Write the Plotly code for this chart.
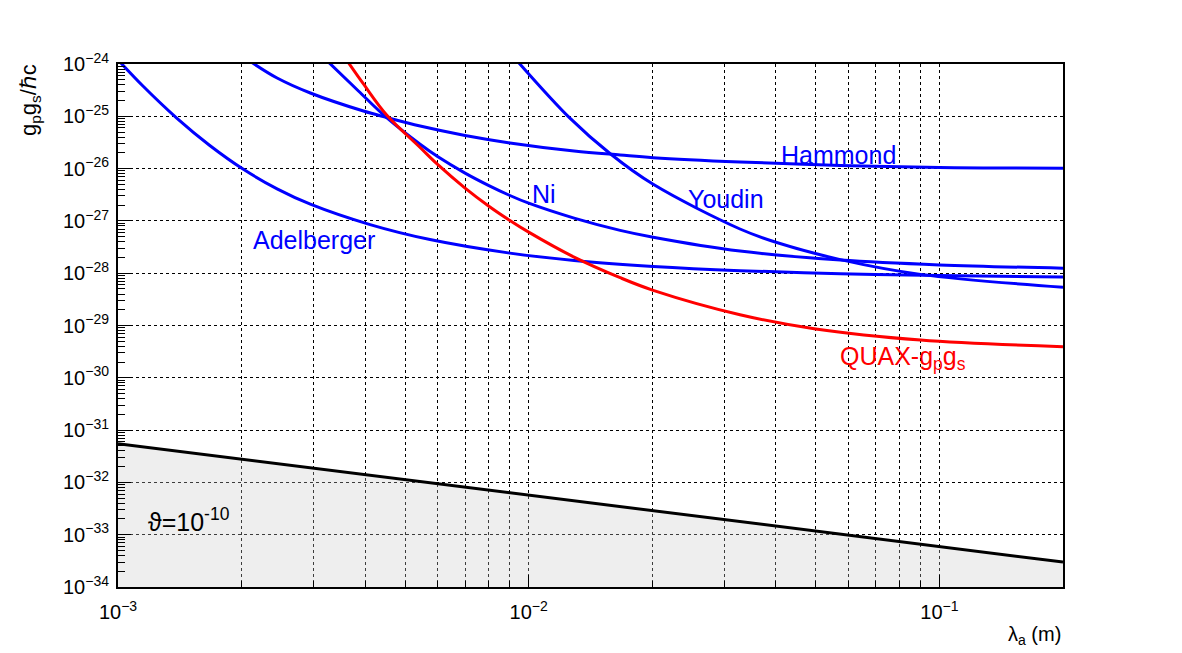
import numpy as np
import plotly.graph_objects as go

# ---------------- data (lambda_a in m, limit on g_p g_s / (hbar c)) ----------------
adel_x = [1.0e-3, 1.15e-3, 1.39e-3, 1.67e-3, 2.02e-3, 2.44e-3, 2.94e-3, 4.11e-3, 5.75e-3,
          9.0e-3, 1.29e-2, 2.01e-2, 3.27e-2, 5.74e-2, 0.1, 0.2]
adel_y = [1.2e-24, 3.79e-25, 9.25e-26, 2.8e-26, 9.7e-27, 4.11e-27, 2.09e-27, 8.5e-28, 4.4e-28,
          2.42e-28, 1.75e-28, 1.35e-28, 1.12e-28, 9.8e-29, 9.0e-29, 8.5e-29]

hamm_x = [2.10e-3, 2.44e-3, 2.94e-3, 3.96e-3, 4.51e-3, 5.44e-3, 7.0e-3, 9.0e-3, 1.29e-2,
          1.67e-2, 2.01e-2, 3.27e-2, 5.74e-2, 0.1, 0.2]
hamm_y = [1.12e-24, 5.4e-25, 2.79e-25, 1.26e-25, 9.5e-26, 6.5e-26, 4.3e-26, 3.1e-26, 2.17e-26,
          1.82e-26, 1.62e-26, 1.34e-26, 1.15e-26, 1.05e-26, 1.02e-26]

ni_x = [3.23e-3, 3.85e-3, 4.51e-3, 5.44e-3, 6.0e-3, 7.0e-3, 8.0e-3, 9.0e-3, 1.0e-2, 1.29e-2,
        1.67e-2, 2.01e-2, 3.27e-2, 5.74e-2, 0.1, 0.2]
ni_y = [1.15e-24, 3.05e-25, 9.4e-26, 2.92e-26, 1.70e-26, 8.2e-27, 4.73e-27, 3.06e-27, 2.18e-27,
        1.13e-27, 6.6e-28, 4.88e-28, 2.65e-28, 1.78e-28, 1.44e-28, 1.25e-28]

youd_x = [9.37e-3, 1.26e-2, 1.58e-2, 2.01e-2, 3.27e-2, 4.0e-2, 5.74e-2, 9.0e-2, 0.2]
youd_y = [1.15e-24, 9.2e-26, 1.92e-26, 5.0e-27, 7.0e-28, 3.9e-28, 1.82e-28, 9.5e-29, 5.4e-29]

quax_x = [3.6e-3, 3.96e-3, 4.51e-3, 5.44e-3, 6.0e-3, 7.0e-3, 8.0e-3, 9.0e-3, 1.0e-2, 1.29e-2,
          1.67e-2, 2.01e-2, 3.27e-2, 5.0e-2, 9.0e-2, 0.2]
quax_y = [1.2e-24, 4.15e-25, 1.06e-25, 2.53e-26, 1.2e-26, 4.24e-27, 1.91e-27, 1.02e-27, 6.1e-28,
          2.03e-28, 8.2e-29, 4.71e-29, 1.61e-29, 8.6e-30, 5.28e-30, 3.92e-30]

theta_x = [1.0e-3, 0.2]
theta_y = [5.5e-32, 3.0e-34]

# axes
X_MIN, X_MAX = 1e-3, 0.2
Y_MIN, Y_MAX = 1e-34, 1e-24
x_major = [1e-3, 1e-2, 1e-1]
x_major_text = ["10<sup>\u22123</sup>", "10<sup>\u22122</sup>", "10<sup>\u22121</sup>"]
x_minor = [m * 10.0 ** e for e in (-3, -2, -1) for m in range(2, 10) if m * 10.0 ** e < X_MAX]
y_exps = list(range(-34, -23))
y_major = [10.0 ** e for e in y_exps]
y_major_text = ["10<sup>\u2212%d</sup>" % (-e) for e in y_exps]
y_minor = [m * 10.0 ** e for e in range(-34, -24) for m in range(2, 10)]

FONT = "Liberation Sans, Arial, Helvetica, sans-serif"
BLUE = "#0000ff"
RED = "#ff0000"

fig = go.Figure()

# shaded region below theta line
fig.add_trace(go.Scatter(
    x=theta_x + [theta_x[-1], theta_x[0]],
    y=theta_y + [Y_MIN, Y_MIN],
    mode="lines", fill="toself", line=dict(width=0),
    fillcolor="rgba(200,200,200,0.3)", hoverinfo="skip", showlegend=False))

for xs, ys, col in [(adel_x, adel_y, BLUE), (hamm_x, hamm_y, BLUE), (ni_x, ni_y, BLUE),
                    (youd_x, youd_y, BLUE), (quax_x, quax_y, RED)]:
    fig.add_trace(go.Scatter(x=xs, y=ys, mode="lines",
                             line=dict(color=col, width=3, shape="spline", smoothing=1.0,
                                       simplify=False),
                             showlegend=False))

fig.add_trace(go.Scatter(x=theta_x, y=theta_y, mode="lines",
                         line=dict(color="black", width=3), showlegend=False))

# text labels (positions in axis units)
labels = [
    ("Hammond", 0.0406, 1.8e-26, BLUE),
    ("Ni", 0.0101, 3.2e-27, BLUE),
    ("Youdin", 0.0242, 2.6e-27, BLUE),
    ("Adelberger", 2.11e-3, 4.3e-28, BLUE),
    ("QUAX-g<sub>p</sub>g<sub>s</sub>", 0.0565, 2.4e-30, RED),
    ("\u03d1=10<sup>-10</sup>", 1.17e-3, 1.9e-33, "black"),
]
for txt, lx, ly, col in labels:
    fig.add_annotation(x=np.log10(lx), y=np.log10(ly), xref="x", yref="y", text=txt,
                       showarrow=False, xanchor="left", yanchor="middle",
                       font=dict(family=FONT, size=25, color=col))

# axis titles
fig.add_annotation(x=-0.093, y=1.004, xref="paper", yref="paper",
                   text="g<sub>p</sub>g<sub>s</sub>/\u210fc", textangle=-90,
                   showarrow=False, xanchor="center", yanchor="top",
                   font=dict(family=FONT, size=22, color="black"))
fig.add_annotation(x=1.0, y=-0.092, xref="paper", yref="paper",
                   text="\u03bb<sub>a</sub> (m)", showarrow=False,
                   xanchor="right", yanchor="middle",
                   font=dict(family=FONT, size=20, color="black"))

axis_common = dict(showline=True, linecolor="black", linewidth=2, mirror=True,
                   showgrid=True, gridcolor="black", gridwidth=1, griddash="dot",
                   ticks="inside", tickcolor="black", tickwidth=1,
                   tickfont=dict(family=FONT, size=20, color="black"),
                   zeroline=False)

fig.update_xaxes(type="log", range=[np.log10(X_MIN), np.log10(X_MAX)],
                 tickmode="array", tickvals=x_major, ticktext=x_major_text,
                 ticklen=12, ticklabelstandoff=6,
                 minor=dict(tickmode="array", tickvals=x_minor, ticks="inside", ticklen=6,
                            tickcolor="black", showgrid=True, gridcolor="black",
                            griddash="dot", gridwidth=1),
                 **axis_common)
fig.update_yaxes(type="log", range=[np.log10(Y_MIN), np.log10(Y_MAX)],
                 tickmode="array", tickvals=y_major, ticktext=y_major_text,
                 ticklen=13, ticklabelstandoff=3,
                 minor=dict(tickmode="array", tickvals=y_minor, ticks="inside", ticklen=7,
                            tickcolor="black", showgrid=False),
                 **axis_common)

fig.update_layout(width=1182, height=653, autosize=False,
                  margin=dict(l=118, r=119, t=64, b=66),
                  paper_bgcolor="white", plot_bgcolor="white",
                  showlegend=False, font=dict(family=FONT, color="black"))

fig.write_html("out.html")
